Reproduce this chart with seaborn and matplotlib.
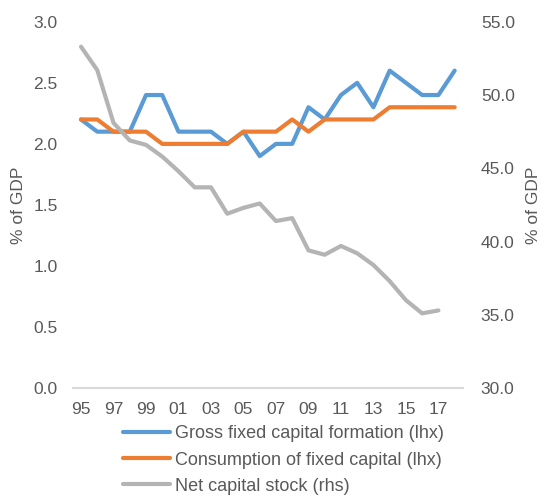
import seaborn as sns
import matplotlib.pyplot as plt
import pandas as pd

years = list(range(1995, 2019))
gfcf = [2.2, 2.1, 2.1, 2.1, 2.4, 2.4, 2.1, 2.1, 2.1, 2.0, 2.1, 1.9,
        2.0, 2.0, 2.3, 2.2, 2.4, 2.5, 2.3, 2.6, 2.5, 2.4, 2.4, 2.6]
cfc = [2.2, 2.2, 2.1, 2.1, 2.1, 2.0, 2.0, 2.0, 2.0, 2.0, 2.1, 2.1,
       2.1, 2.2, 2.1, 2.2, 2.2, 2.2, 2.2, 2.3, 2.3, 2.3, 2.3, 2.3]
# net capital stock only runs to 2017
ncs_years = list(range(1995, 2018))
ncs = [53.3, 51.7, 48.1, 46.9, 46.6, 45.8, 44.8, 43.7, 43.7, 41.9, 42.3, 42.6,
       41.4, 41.6, 39.4, 39.1, 39.7, 39.2, 38.4, 37.3, 36.0, 35.1, 35.3]
tick_years = list(range(1995, 2018, 2))
tick_labels = ['%02d' % (y % 100) for y in tick_years]

left = pd.DataFrame({'year': years, 'gfcf': gfcf, 'cfc': cfc})
right = pd.DataFrame({'year': ncs_years, 'ncs': ncs})

sns.set_style('white')
plt.rcParams['font.family'] = ['Liberation Sans', 'DejaVu Sans']
txt = '#595959'

fig = plt.figure(figsize=(5.4, 4.95), dpi=100)
ax = fig.add_axes([0.135, 0.216, 0.722, 0.740])
ax2 = ax.twinx()

lw = 3.0
sns.lineplot(data=left, x='year', y='gfcf', ax=ax, color='#5B9BD5', lw=lw,
             label='Gross fixed capital formation (lhx)', legend=False)
sns.lineplot(data=left, x='year', y='cfc', ax=ax, color='#ED7D31', lw=lw,
             label='Consumption of fixed capital (lhx)', legend=False)
sns.lineplot(data=right, x='year', y='ncs', ax=ax2, color='#B4B4B4', lw=lw,
             label='Net capital stock (rhs)', legend=False)

ax.set_xlim(1994.5, 2018.5)
ax.set_ylim(0, 3.0)
ax.set_yticks([0, 0.5, 1.0, 1.5, 2.0, 2.5, 3.0])
ax.set_yticklabels(['%.1f' % v for v in ax.get_yticks()])
ax2.set_ylim(30, 55)
ax2.set_yticks([30, 35, 40, 45, 50, 55])
ax2.set_yticklabels(['%.1f' % v for v in ax2.get_yticks()])
ax.set_xticks(tick_years)
ax.set_xticklabels(tick_labels)

for a in (ax, ax2):
    for s in a.spines.values():
        s.set_visible(False)
    a.tick_params(length=0, labelsize=12.5, labelcolor=txt)
ax.spines['bottom'].set_visible(True)
ax.spines['bottom'].set_color('#D9D9D9')
ax.spines['bottom'].set_linewidth(1.5)
ax.tick_params(axis='y', pad=11)
ax.tick_params(axis='x', pad=10)
ax2.tick_params(axis='y', pad=13)

ax.set_xlabel('')
ax.set_ylabel('% of GDP', fontsize=12.5, color=txt)
ax2.set_ylabel('% of GDP', fontsize=12.5, color=txt, rotation=90)
ax.yaxis.set_label_coords(-0.12, 0.5)
ax2.yaxis.set_label_coords(1.163, 0.5)

h1, l1 = ax.get_legend_handles_labels()
h2, l2 = ax2.get_legend_handles_labels()
fig.legend(h1 + h2, l1 + l2, loc='center left', bbox_to_anchor=(0.228, 0.0707),
           frameon=False, fontsize=13, labelcolor=txt, handlelength=2.6,
           handletextpad=0.28, labelspacing=0.5, borderpad=0, borderaxespad=0)

fig.savefig('out.png', dpi=100)
